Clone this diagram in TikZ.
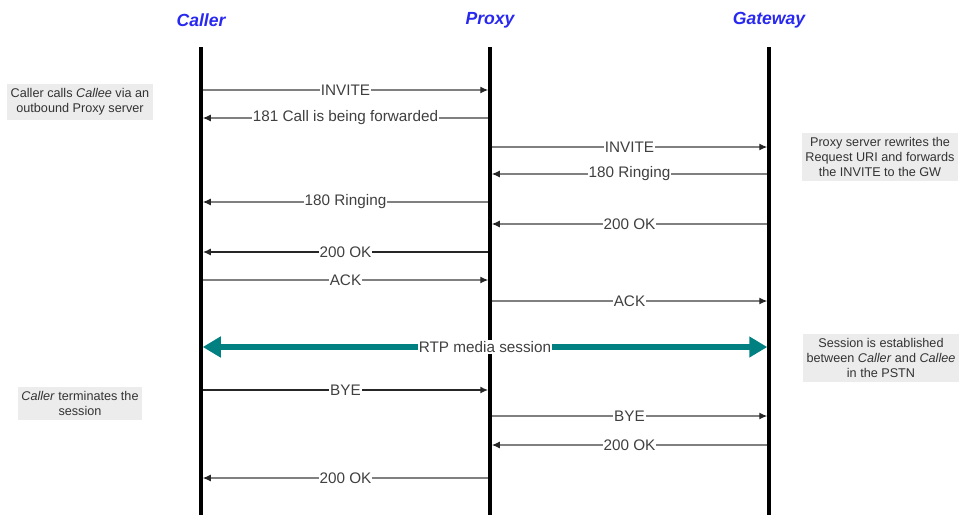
\documentclass[tikz,border=0pt]{standalone}
\usepackage{fontspec}
\setmainfont{Liberation Sans}
\usetikzlibrary{arrows.meta}
\definecolor{hdrblue}{RGB}{40,40,240}
\definecolor{rtpteal}{RGB}{0,128,128}
\definecolor{notegray}{RGB}{236,236,236}

\begin{document}
\begin{tikzpicture}[x=0.02cm,y=-0.02cm,
  actor/.style={font=\fontsize{10}{12}\selectfont\bfseries\itshape,text=hdrblue},
  lifeline/.style={line width=2pt,black},
  msg/.style={-{Latex[length=1.6mm,width=1.4mm,color=black!85]},black!50,line width=0.7pt,shorten >=1pt,shorten <=1pt},
  msgdark/.style={msg,black!85,line width=0.9pt},
  lbl/.style={fill=white,inner sep=0.6pt,font=\fontsize{8.7}{10}\selectfont,text=black!75},
  note/.style={fill=notegray,align=center,inner xsep=2pt,inner ysep=2.5pt,font=\fontsize{7.2}{8.5}\selectfont,text=black!80},
  rtp/.style={{Triangle[length=3.6mm,width=4mm]}-{Triangle[length=3.6mm,width=4mm]},rtpteal,line width=3pt,shorten >=1pt,shorten <=1pt}]
\useasboundingbox (0,0) rectangle (959,515);
\node[actor] (caller) at (201,20) {Caller};
\node[actor] (proxy) at (490,20) {Proxy};
\node[actor] (gw) at (769,20) {Gateway};
\coordinate (callerTop) at (201,47);
\coordinate (proxyTop) at (490,47);
\coordinate (gwTop) at (769,47);
\coordinate (callerBot) at (201,515);
\coordinate (proxyBot) at (490,515);
\coordinate (gwBot) at (769,515);
\draw[lifeline] (callerTop) -- (callerBot);
\draw[lifeline] (proxyTop) -- (proxyBot);
\draw[lifeline] (gwTop) -- (gwBot);
\draw[msg] (callerTop |- 0,90) -- node[lbl] {INVITE} (proxyTop |- 0,90);
\draw[msg] (proxyTop |- 0,118) -- node[lbl] {181 Call is being forwarded} (callerTop |- 0,118);
\draw[msg] (proxyTop |- 0,147) -- node[lbl] {INVITE} (gwTop |- 0,147);
\draw[msg] (gwTop |- 0,174) -- node[lbl] {180 Ringing} (proxyTop |- 0,174);
\draw[msg] (proxyTop |- 0,202) -- node[lbl] {180 Ringing} (callerTop |- 0,202);
\draw[msg] (gwTop |- 0,224) -- node[lbl] {200 OK} (proxyTop |- 0,224);
\draw[msgdark] (proxyTop |- 0,252) -- node[lbl] {200 OK} (callerTop |- 0,252);
\draw[msg] (callerTop |- 0,280) -- node[lbl] {ACK} (proxyTop |- 0,280);
\draw[msg] (proxyTop |- 0,301) -- node[lbl] {ACK} (gwTop |- 0,301);
\draw[rtp] (callerTop |- 0,347) -- node[lbl] {RTP media session} (gwTop |- 0,347);
\draw[msgdark] (callerTop |- 0,390) -- node[lbl] {BYE} (proxyTop |- 0,390);
\draw[msg] (proxyTop |- 0,416) -- node[lbl] {BYE} (gwTop |- 0,416);
\draw[msg] (gwTop |- 0,445) -- node[lbl] {200 OK} (proxyTop |- 0,445);
\draw[msg] (proxyTop |- 0,478) -- node[lbl] {200 OK} (callerTop |- 0,478);
\node[note] (n1) at (80,102) {Caller calls \textit{Callee} via an\\outbound Proxy server};
\node[note] (n2) at (880,157) {Proxy server rewrites the\\Request URI and forwards\\the INVITE to the GW};
\node[note] (n3) at (881,358) {Session is established\\between \textit{Caller} and \textit{Callee}\\in the PSTN};
\node[note] (n4) at (80,403) {\textit{Caller} terminates the\\session};
\end{tikzpicture}
\end{document}
